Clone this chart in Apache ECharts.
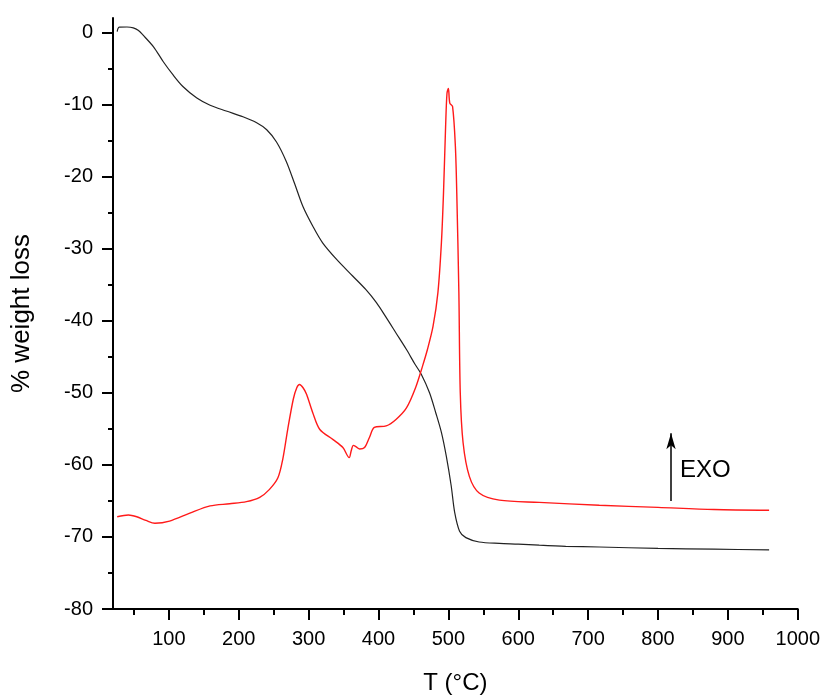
<!DOCTYPE html>
<html>
<head>
<meta charset="utf-8">
<script src="https://cdn.jsdelivr.net/npm/echarts@6/dist/echarts.min.js"></script>
<style>html,body{margin:0;padding:0;background:#fff}#c{width:823px;height:700px}</style>
</head>
<body>
<div id="c"></div>
<script>
// Tick values
var xTicks = [100,200,300,400,500,600,700,800,900,1000];
var xMinorTicks = [50,150,250,350,450,550,650,750,850,950];
var yTicks = [-80,-70,-60,-50,-40,-30,-20,-10,0];
var yMinorTicks = [-75,-65,-55,-45,-35,-25,-15,-5];

// TGA (% weight loss) – black curve
var tgaCurve = [[26,0.1],[27,0.5],[29,0.73],[40,0.75],[49,0.64],[56,0.3],[63,-0.37],[78,-2.0],[92,-4.07],[106,-5.9],[120,-7.5],[140,-9.1],[159,-10.1],[182,-10.9],[206,-11.7],[225,-12.5],[240,-13.5],[254,-15.2],[268,-17.9],[280,-21.0],[292,-24.2],[306,-26.9],[320,-29.2],[340,-31.5],[363,-33.8],[382,-35.7],[397,-37.5],[410,-39.4],[425,-41.7],[440,-44.0],[452,-46.0],[461,-47.4],[473,-50.0],[482,-52.8],[490,-55.5],[497,-58.8],[504,-62.9],[509,-66.6],[516,-69.2],[525,-70.1],[544,-70.7],[573,-70.9],[600,-71.0],[630,-71.15],[668,-71.3],[716,-71.4],[800,-71.6],[880,-71.7],[959,-71.8]];

// DTA (heat flow, arbitrary offset) – red curve
var dtaCurve = [[26,-67.2],[42,-66.95],[54,-67.2],[67,-67.7],[80,-68.1],[101,-67.8],[130,-66.7],[159,-65.7],[187,-65.4],[211,-65.1],[230,-64.5],[244,-63.4],[256,-61.8],[263,-59.2],[270,-55.1],[278,-50.9],[283,-49.3],[287,-48.85],[292,-49.3],[297,-50.2],[306,-52.8],[316,-55.1],[335,-56.5],[349,-57.6],[358,-59.0],[361,-58.0],[364,-57.3],[368,-57.5],[373,-57.8],[380,-57.6],[387,-56.2],[394,-54.8],[411,-54.6],[425,-53.7],[440,-52.1],[453,-49.3],[463,-46.3],[470,-44.0],[478,-40.8],[485,-36.1],[490,-29.2],[493,-22.3],[496,-13.1],[498,-8.45],[500,-7.76],[502,-9.8],[506,-10.3],[510,-15.8],[512,-22.3],[515,-36.1],[517,-50.0],[521,-56.9],[530,-61.6],[544,-63.9],[573,-64.9],[630,-65.2],[716,-65.6],[800,-65.9],[880,-66.2],[959,-66.3]];

// EXO annotation
var exoArrow = [[818.6,-65.0],[818.6,-55.6]];
var exoLabel = [[818.6,-60.8]];
var exoText = 'EXO';

var FONT = 'Liberation Sans, Arial, sans-serif';
function plain(v) { return String(v); }
var chart = echarts.init(document.getElementById('c'));
chart.setOption({
  animation: false,
  backgroundColor: '#fff',
  grid: {left: 113, right: 24, top: 18, bottom: 90, containLabel: false},
  xAxis: [{
    type: 'value', min: 20, max: 1000,
    name: 'T (°C)', nameLocation: 'middle', nameGap: 62,
    nameTextStyle: {fontSize: 24, color: '#000', fontFamily: FONT},
    axisLine: {show: true, onZero: false, lineStyle: {color: '#000', width: 2}},
    axisTick: {show: true, inside: false, length: 11, customValues: xTicks, lineStyle: {color: '#000', width: 2}},
    axisLabel: {customValues: xTicks, formatter: plain, margin: 20, fontSize: 20, color: '#000', fontFamily: FONT},
    splitLine: {show: false}
  }, {
    type: 'value', min: 20, max: 1000, position: 'bottom', gridIndex: 0,
    axisLine: {show: false, onZero: false},
    axisTick: {show: true, inside: false, length: 6, customValues: xMinorTicks, lineStyle: {color: '#000', width: 2}},
    axisLabel: {show: false},
    splitLine: {show: false}
  }],
  yAxis: [{
    type: 'value', min: -80, max: 2,
    name: '% weight loss', nameLocation: 'middle', nameGap: 78,
    nameTextStyle: {fontSize: 26, color: '#000', fontFamily: FONT},
    axisLine: {show: true, onZero: false, lineStyle: {color: '#000', width: 2}},
    axisTick: {show: true, inside: false, length: 11, customValues: yTicks, lineStyle: {color: '#000', width: 2}},
    axisLabel: {customValues: yTicks, formatter: plain, margin: 20, fontSize: 20, color: '#000', fontFamily: FONT},
    splitLine: {show: false}
  }, {
    type: 'value', min: -80, max: 2, position: 'left',
    axisLine: {show: false, onZero: false},
    axisTick: {show: true, inside: false, length: 5, customValues: yMinorTicks, lineStyle: {color: '#000', width: 2}},
    axisLabel: {show: false},
    splitLine: {show: false}
  }],
  series: [{
    name: 'TGA', type: 'line', data: tgaCurve, xAxisIndex: 0, yAxisIndex: 0,
    showSymbol: false, symbol: 'none', smooth: 0.3,
    lineStyle: {color: '#222', width: 1.2}
  }, {
    name: 'DTA', type: 'line', data: dtaCurve, xAxisIndex: 0, yAxisIndex: 0,
    showSymbol: false, symbol: 'none', smooth: 0.3,
    lineStyle: {color: '#ff1a1a', width: 1.4}
  }, {
    name: 'EXO', type: 'scatter', data: exoLabel, xAxisIndex: 0, yAxisIndex: 0,
    symbolSize: 0, silent: true, itemStyle: {opacity: 1},
    label: {show: true, position: 'right', distance: 9, formatter: exoText, fontSize: 24, color: '#000', opacity: 1, fontFamily: FONT},
    markLine: {
      silent: true, symbol: ['none', 'arrow'], symbolSize: [7, 16],
      label: {show: false},
      lineStyle: {color: '#000', width: 1.5, type: 'solid', opacity: 1},
      data: [[{coord: exoArrow[0]}, {coord: exoArrow[1]}]]
    }
  }]
});
</script>
</body>
</html>
